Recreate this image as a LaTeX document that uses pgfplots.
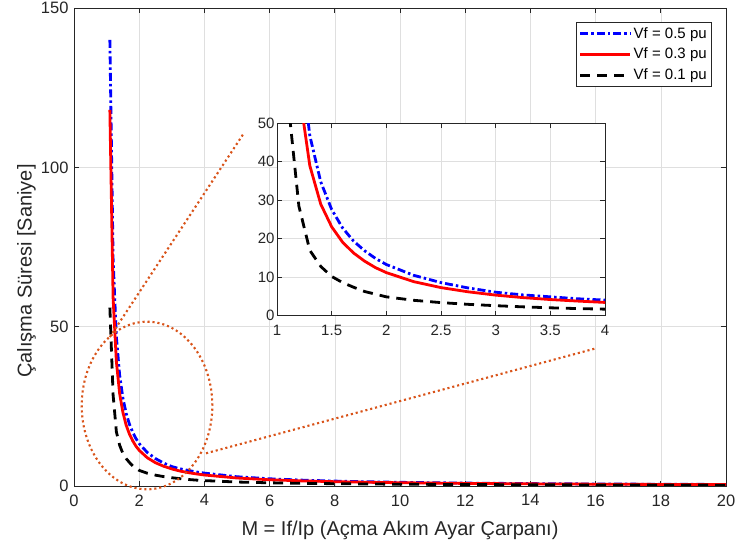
\documentclass[border=0pt]{standalone}
\usepackage{fontspec}
\setmainfont{Liberation Sans}
\usepackage{pgfplots}
\usepackage{pgfplotstable}
\pgfplotsset{compat=1.18}

\definecolor{axgray}{rgb}{0.15,0.15,0.15}
\definecolor{gridgray}{rgb}{0.875,0.875,0.875}
\definecolor{annot}{rgb}{0.85,0.325,0.098}

% operating time t(M) for the three fault voltages
\pgfplotstableread{
M     t
1.1   140
1.2   70.9
1.3   46.8
1.4   34.8
1.5   27.6
1.6   22.8
1.7   19.4
1.8   16.9
1.9   14.9
2.0   13.3
2.25  10.5
2.5   8.6
2.75  7.2
3.0   6.1
3.25  5.4
3.5   4.9
3.75  4.4
4.0   4.05
5     2.9
6     2.26
7     1.84
8     1.54
9     1.32
10    1.15
12    0.91
14    0.75
16    0.63
18    0.55
20    0.48
}\vfhalf

\pgfplotstableread{
M     t
1.1   118
1.2   58.9
1.3   39.0
1.4   29.0
1.5   23.1
1.6   19.1
1.7   16.3
1.8   14.2
1.9   12.5
2.0   11.2
2.25  8.85
2.5   7.3
2.75  6.2
3.0   5.35
3.25  4.7
3.5   4.2
3.75  3.8
4.0   3.45
5     2.51
6     1.96
7     1.6
8     1.35
9     1.17
10    1.02
12    0.81
14    0.67
16    0.57
18    0.49
20    0.43
}\vfthree

\pgfplotstableread{
M     t
1.1   56
1.2   28.5
1.3   17
1.4   12.8
1.5   10.2
1.6   8.6
1.7   7.4
1.8   6.3
1.9   5.6
2.0   4.9
2.25  4.0
2.5   3.4
2.75  2.95
3.0   2.6
3.25  2.3
3.5   2.05
3.75  1.85
4.0   1.7
5     1.25
6     1.0
7     0.84
8     0.72
9     0.63
10    0.56
12    0.46
14    0.39
16    0.33
18    0.29
20    0.26
}\vfone

\pgfplotsset{
  matlabaxis/.style={
    scale only axis,
    axis background/.style={fill=white},
    grid=major,
    grid style={color=gridgray, line width=0.6bp},
    axis line style={color=axgray, line width=0.7bp},
    tick style={color=axgray, line width=0.7bp},
    major tick length=5bp,
    tick align=inside,
    /pgf/number format/assume math mode=true,
  },
  vfA/.style={color=blue, line width=2.8bp, dash pattern=on 8bp off 3bp on 2.5bp off 3bp},
  vfB/.style={color=red, line width=2.8bp},
  vfC/.style={color=black, line width=2.8bp, dash pattern=on 10bp off 7bp},
}

\begin{document}
\begin{tikzpicture}
\useasboundingbox (0,0) rectangle (736bp,548bp);

\begin{axis}[
  matlabaxis,
  at={(74bp,62bp)}, anchor=south west,
  width=652bp, height=478bp,
  xmin=0, xmax=20, ymin=0, ymax=150,
  xtick={0,2,...,20}, ytick={0,50,100,150},
  ticklabel style={font=\fontsize{16.5bp}{19bp}\selectfont, color=axgray},
  xticklabel style={yshift=-5bp},
  yticklabel style={xshift=-2bp},
  xlabel={M = If/Ip (Açma Akım Ayar Çarpanı)},
  ylabel={Çalışma Süresi [Saniye]},
  xlabel style={at={(axis description cs:0.5,0)}, anchor=north, inner sep=0pt,
                yshift=-35bp, font=\fontsize{20bp}{24bp}\selectfont, color=axgray},
  ylabel style={at={(axis description cs:0,0.5)}, anchor=south, inner sep=0pt,
                xshift=-24bp, yshift=38bp, font=\fontsize{20bp}{24bp}\selectfont, color=axgray},
  legend style={at={(0.9785,0.9707)}, anchor=north east, draw=axgray, line width=0.6bp,
                font=\fontsize{15bp}{18bp}\selectfont, inner xsep=3bp, inner ysep=3bp,
                row sep=4.5bp, cells={anchor=west}},
  legend image code/.code={\draw[#1] (0bp,0bp) -- (50bp,0bp);},
]
\addplot[vfA] table[x=M,y=t] {\vfhalf};
\addlegendentry{Vf = 0.5 pu}
\addplot[vfB] table[x=M,y=t] {\vfthree};
\addlegendentry{Vf = 0.3 pu}
\addplot[vfC] table[x=M,y=t] {\vfone};
\addlegendentry{Vf = 0.1 pu}

% zoom marker: ellipse around the knee and the two guide lines
\coordinate (ellc) at (axis cs:2.24,25.26);
\coordinate (up0) at (axis cs:1.10,46.75);
\coordinate (up1) at (axis cs:5.19,110.4);
\coordinate (lo0) at (axis cs:4.05,10.26);
\coordinate (lo1) at (axis cs:16.01,43.2);
\end{axis}

\begin{axis}[
  matlabaxis,
  at={(277bp,232.3bp)}, anchor=south west,
  width=328bp, height=192.4bp,
  xmin=1, xmax=4, ymin=0, ymax=50,
  xtick={1,1.5,...,4}, ytick={0,10,...,50},
  ticklabel style={font=\fontsize{15bp}{18bp}\selectfont, color=axgray},
  xticklabel style={yshift=-6bp},
  yticklabel style={xshift=1bp},
]
\addplot[vfA] table[x=M,y=t] {\vfhalf};
\addplot[vfB] table[x=M,y=t] {\vfthree};
\addplot[vfC] table[x=M,y=t] {\vfone};
\end{axis}

\begin{scope}[color=annot, line width=2.1bp, line cap=butt, dash pattern=on 2.1bp off 2.9bp]
\draw (ellc) ellipse [x radius=65.3bp, y radius=83.8bp];
\draw (up0) -- (up1);
\draw (lo0) -- (lo1);
\end{scope}
\end{tikzpicture}
\end{document}
